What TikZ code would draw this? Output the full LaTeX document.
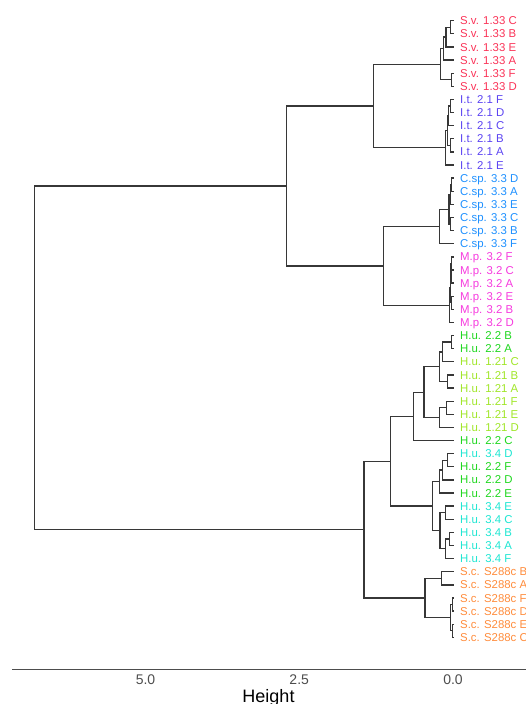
\documentclass[tikz,border=0pt]{standalone}
\usepackage{fontspec}
\setmainfont{Liberation Sans}
\usetikzlibrary{calc}
\definecolor{colSv}{RGB}{250,52,88}
\definecolor{colIt}{RGB}{92,68,242}
\definecolor{colCs}{RGB}{30,144,255}
\definecolor{colMp}{RGB}{246,58,222}
\definecolor{colHa}{RGB}{30,215,30}
\definecolor{colHb}{RGB}{160,230,40}
\definecolor{colHc}{RGB}{30,230,210}
\definecolor{colSc}{RGB}{255,140,60}
\definecolor{colTree}{RGB}{55,55,55}
\definecolor{colAxis}{RGB}{77,77,77}
\tikzset{
  tree/.style={draw=colTree, line width=1.3bp},
  lab/.style={anchor=west, inner sep=0pt, text height=8.15bp, text depth=0bp,
              font=\fontsize{11.4bp}{13bp}\selectfont},
  axisline/.style={draw=colAxis, line width=1.1bp},
  ticklab/.style={anchor=base, inner sep=0pt, text=colAxis, font=\fontsize{14bp}{16bp}\selectfont},
  axtitle/.style={anchor=base, inner sep=0pt, text=black, font=\fontsize{18bp}{20bp}\selectfont}
}
\newcommand\mergeat[4]{%
  \coordinate (#1m) at ($(#3)!0.5!(#4)$);
  \coordinate (#1x) at (#2,0);
  \coordinate (#1) at (#1m -| #1x);
  \draw[tree] (#3) -- (#3 -| #1) -- (#4 -| #1) -- (#4);
}
\begin{document}
\begin{tikzpicture}[x=1bp, y=-1bp]
\useasboundingbox (0,0) rectangle (526,704);
\foreach \i/\t/\c in {
 1/S.v. 1.33 C/colSv, 2/S.v. 1.33 B/colSv, 3/S.v. 1.33 E/colSv, 4/S.v. 1.33 A/colSv,
 5/S.v. 1.33 F/colSv, 6/S.v. 1.33 D/colSv,
 7/I.t. 2.1 F/colIt, 8/I.t. 2.1 D/colIt, 9/I.t. 2.1 C/colIt, 10/I.t. 2.1 B/colIt,
 11/I.t. 2.1 A/colIt, 12/I.t. 2.1 E/colIt,
 13/C.sp. 3.3 D/colCs, 14/C.sp. 3.3 A/colCs, 15/C.sp. 3.3 E/colCs, 16/C.sp. 3.3 C/colCs,
 17/C.sp. 3.3 B/colCs, 18/C.sp. 3.3 F/colCs,
 19/M.p. 3.2 F/colMp, 20/M.p. 3.2 C/colMp, 21/M.p. 3.2 A/colMp, 22/M.p. 3.2 E/colMp,
 23/M.p. 3.2 B/colMp, 24/M.p. 3.2 D/colMp,
 25/H.u. 2.2 B/colHa, 26/H.u. 2.2 A/colHa,
 27/H.u. 1.21 C/colHb, 28/H.u. 1.21 B/colHb, 29/H.u. 1.21 A/colHb, 30/H.u. 1.21 F/colHb,
 31/H.u. 1.21 E/colHb, 32/H.u. 1.21 D/colHb,
 33/H.u. 2.2 C/colHa, 34/H.u. 3.4 D/colHc, 35/H.u. 2.2 F/colHa, 36/H.u. 2.2 D/colHa,
 37/H.u. 2.2 E/colHa, 38/H.u. 3.4 E/colHc, 39/H.u. 3.4 C/colHc, 40/H.u. 3.4 B/colHc,
 41/H.u. 3.4 A/colHc, 42/H.u. 3.4 F/colHc,
 43/S.c. S288c B/colSc, 44/S.c. S288c A/colSc, 45/S.c. S288c F/colSc,
 46/S.c. S288c D/colSc, 47/S.c. S288c E/colSc, 48/S.c. S288c C/colSc}{
  \node[lab, text=\c] (l\i) at (460, {20.7+(\i-1)*13.12}) {\t};
  \coordinate (t\i) at (453.5, {20.7+(\i-1)*13.12});
}
% S.v.
\mergeat{sva}{450.7}{t1}{t2}
\mergeat{svb}{446.0}{sva}{t3}
\mergeat{svc}{443.3}{svb}{t4}
\mergeat{svd}{451.7}{t5}{t6}
\mergeat{sv}{440.7}{svc}{svd}
% I.t.
\mergeat{ita}{450.5}{t7}{t8}
\mergeat{itb}{448.5}{ita}{t9}
\mergeat{itc}{450.5}{t10}{t11}
\mergeat{itd}{447.3}{itb}{itc}
\mergeat{it}{445.5}{itd}{t12}
\mergeat{svit}{373.3}{sv}{it}
% C.sp.
\mergeat{csa}{451.7}{t13}{t14}
\mergeat{csb}{450.3}{csa}{t15}
\mergeat{csc}{450.3}{t16}{t17}
\mergeat{csd}{449.0}{csb}{csc}
\mergeat{cs}{439.3}{csd}{t18}
% M.p.
\mergeat{mpa}{451.7}{t19}{t20}
\mergeat{mpb}{451.0}{mpa}{t21}
\mergeat{mpc}{451.7}{t22}{t23}
\mergeat{mpd}{450.3}{mpb}{mpc}
\mergeat{mp}{449.3}{mpd}{t24}
\mergeat{csmp}{383.3}{cs}{mp}
\mergeat{top}{286.7}{svit}{csmp}
% H.u.
\mergeat{ha}{451.7}{t25}{t26}
\mergeat{hb}{442.7}{ha}{t27}
\mergeat{hc}{447.3}{t28}{t29}
\mergeat{hd}{439.3}{hb}{hc}
\mergeat{he}{446.7}{t30}{t31}
\mergeat{hf}{439.3}{he}{t32}
\mergeat{hg}{424.0}{hd}{hf}
\mergeat{hh}{413.3}{hg}{t33}
\mergeat{hi}{447.3}{t34}{t35}
\mergeat{hj}{442.3}{hi}{t36}
\mergeat{hk}{439.3}{hj}{t37}
\mergeat{hl}{445.3}{t38}{t39}
\mergeat{hm}{449.3}{t40}{t41}
\mergeat{hn}{445.3}{hm}{t42}
\mergeat{ho}{440.0}{hl}{hn}
\mergeat{hp}{432.7}{hk}{ho}
\mergeat{hu}{390.7}{hh}{hp}
% S.c.
\mergeat{sca}{441.7}{t43}{t44}
\mergeat{scb}{452.5}{t45}{t46}
\mergeat{scc}{452.5}{t47}{t48}
\mergeat{scd}{450.5}{scb}{scc}
\mergeat{sc}{425.0}{sca}{scd}
\mergeat{bot}{364.0}{hu}{sc}
\mergeat{root}{34.5}{top}{bot}
% axis
\coordinate (axL) at (12,669.3);
\coordinate (axR) at (526,669.3);
\draw[axisline] (axL) -- (axR);
\node[ticklab] (tk5) at (145.5,684) {5.0};
\node[ticklab] (tk25) at (299.2,684) {2.5};
\node[ticklab] (tk0) at (453,684) {0.0};
\node[axtitle] (ttl) at (268.5,702) {Height};
\end{tikzpicture}
\end{document}
